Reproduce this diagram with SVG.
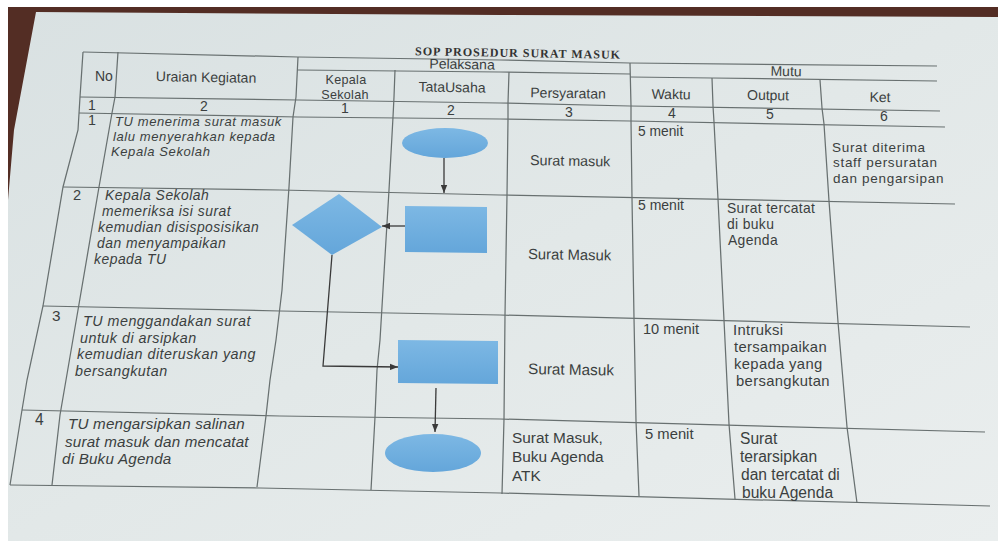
<svg xmlns="http://www.w3.org/2000/svg" width="998" height="543" viewBox="0 0 998 543">
<defs>
<linearGradient id="paper" x1="0" y1="0" x2="1" y2="1">
<stop offset="0" stop-color="#d9e1e2"/>
<stop offset="0.5" stop-color="#e2e8e8"/>
<stop offset="1" stop-color="#eaeeee"/>
</linearGradient>
<linearGradient id="blue" x1="0" y1="0" x2="0" y2="1">
<stop offset="0" stop-color="#7db8e4"/>
<stop offset="1" stop-color="#64a6da"/>
</linearGradient>
<marker id="arr" viewBox="0 0 10 8" refX="10" refY="4" markerWidth="8" markerHeight="7" markerUnits="userSpaceOnUse" orient="auto">
<path d="M0,0 L10,4 L0,8 z" fill="#3a3a3a"/>
</marker>
<style>
.ln{fill:none;stroke:#687070;stroke-width:1.25}
.t{font-family:"Liberation Sans",Arial,sans-serif;fill:#3b3f40}
.i{font-style:italic}
.h{font-size:14px}
.c{text-anchor:middle}
.shape{fill:url(#blue)}
.con{fill:none;stroke:#3a3a3a;stroke-width:1.3}
</style>
</defs>
<rect x="0" y="0" width="998" height="543" fill="#ffffff"/>
<rect x="8" y="7" width="990" height="534" fill="url(#paper)"/>
<polygon points="8,7 998,7 998,17 500,15 36,12 14,130 8,200" fill="#532d24"/>

<g id="table">
<polyline class="ln" points="83,52 298,57 500,60 630,63 937,66"/>
<polyline class="ln" points="298,70 500,72 630,74"/>
<polyline class="ln" points="630,77 712,78 937,81"/>
<polyline class="ln" points="80,97 298,100 500,103 630,106 940,111"/>
<polyline class="ln" points="79,113 298,117 500,119 630,121 945,127"/>
<polyline class="ln" points="63,187 280,190 500,195 955,204"/>
<polyline class="ln" points="43,306 280,311 500,315 970,327"/>
<polyline class="ln" points="22,410 280,416 500,419 985,432"/>
<polyline class="ln" points="10,485 260,488 500,493 990,506"/>
<polyline class="ln" points="83,52 80,97 78,130 63,187 43,306 27,380 22,410 10,485"/>
<polyline class="ln" points="118,52 115,97 112,113 99,187 78,310 66,380 60,415 52,485"/>
<polyline class="ln" points="298,57 296,97 293,117 289,187 282,290 276,340 270,380 266,416 257,487"/>
<polyline class="ln" points="395,70 394,97 393,117 389,190 383,290 380,340 377,370 375,417 371,490"/>
<polyline class="ln" points="509,72 508,103 508,119 507,195 505,315 504,419 502,494"/>
<polyline class="ln" points="630,63 631,106 631,121 632,198 634,318 636,421 639,496"/>
<polyline class="ln" points="712,78 713,106 714,122 718,199 724,320 729,424 735,499"/>
<polyline class="ln" points="820,80 822,108 824,124 829,201 838,322 847,427 857,503"/>
</g>

<g id="headers" class="t">
<text x="518" y="57" text-anchor="middle" style="font-family:'Liberation Serif','Times New Roman',serif;font-weight:bold;font-size:12px;letter-spacing:1px" fill="#333" transform="rotate(1 518 57)">SOP PROSEDUR SURAT MASUK</text>
<text class="h" x="95" y="81">No</text>
<text class="h c" x="206" y="82" transform="rotate(1 206 82)">Uraian Kegiatan</text>
<text class="h c" x="462" y="69" transform="rotate(1 462 69)">Pelaksana</text>
<text class="c" x="346" y="84" style="font-size:12.6px;letter-spacing:0.3px">Kepala</text>
<text class="c" x="345" y="98.5" style="font-size:12.6px;letter-spacing:0.3px">Sekolah</text>
<text class="h c" x="452" y="92" transform="rotate(1 452 92)">TataUsaha</text>
<text class="h c" x="568" y="98" transform="rotate(1 568 98)">Persyaratan</text>
<text class="h c" x="786" y="76" transform="rotate(1 786 76)">Mutu</text>
<text class="h c" x="671" y="99" transform="rotate(1 671 99)">Waktu</text>
<text class="h c" x="768" y="100" transform="rotate(1 768 100)">Output</text>
<text class="h c" x="880" y="102" transform="rotate(1 880 102)">Ket</text>
<text class="h c" x="92" y="110">1</text>
<text class="h c" x="204" y="111">2</text>
<text class="h c" x="345" y="113">1</text>
<text class="h c" x="451" y="115">2</text>
<text class="h c" x="569" y="117">3</text>
<text class="h c" x="672" y="118">4</text>
<text class="h c" x="770" y="119">5</text>
<text class="h c" x="884" y="121">6</text>
</g>

<g id="row1" class="t" style="font-size:13px">
<text x="88" y="125" style="font-size:14.3px">1</text>
<g class="i" style="letter-spacing:0.6px">
<text x="115" y="126">TU menerima surat masuk</text>
<text x="113" y="141">lalu menyerahkan kepada</text>
<text x="111" y="156">Kepala Sekolah</text>
</g>
<text x="530" y="165" style="font-size:14.3px" transform="rotate(1 530 165)">Surat masuk</text>
<text x="638" y="136" style="font-size:13.8px">5 menit</text>
<g style="font-size:13.5px;letter-spacing:0.7px">
<text x="832" y="151.5">Surat diterima</text>
<text x="833" y="167">staff persuratan</text>
<text x="833" y="182.5">dan pengarsipan</text>
</g>
</g>

<g id="row2" class="t" style="font-size:13.9px">
<text x="73" y="200" style="font-size:14.6px">2</text>
<g class="i" style="letter-spacing:0.5px">
<text x="105" y="200">Kepala Sekolah</text>
<text x="102" y="216">memeriksa isi surat</text>
<text x="98" y="232">kemudian disisposisikan</text>
<text x="97" y="248">dan menyampaikan</text>
<text x="94" y="264">kepada TU</text>
</g>
<text x="528" y="259" style="font-size:14.8px" transform="rotate(1 528 259)">Surat Masuk</text>
<text x="638" y="210" style="font-size:14px">5 menit</text>
<g style="letter-spacing:0.35px">
<text x="727" y="213">Surat tercatat</text>
<text x="727" y="229">di buku</text>
<text x="728" y="245">Agenda</text>
</g>
</g>

<g id="row3" class="t" style="font-size:14.3px">
<text x="52" y="321" style="font-size:15.3px">3</text>
<g class="i" style="letter-spacing:0.5px">
<text x="83" y="326">TU menggandakan surat</text>
<text x="80" y="342.5">untuk di arsipkan</text>
<text x="77" y="359">kemudian diteruskan yang</text>
<text x="75" y="375.5">bersangkutan</text>
</g>
<text x="528" y="374" style="font-size:15.3px" transform="rotate(1 528 374)">Surat Masuk</text>
<text x="643" y="334" style="font-size:14.6px">10 menit</text>
<g style="font-size:14.8px;letter-spacing:0.35px">
<text x="733" y="335">Intruksi</text>
<text x="734" y="352">tersampaikan</text>
<text x="734" y="369">kepada yang</text>
<text x="736" y="386">bersangkutan</text>
</g>
</g>

<g id="row4" class="t" style="font-size:15.2px">
<text x="35" y="425" style="font-size:15.6px">4</text>
<g class="i" style="letter-spacing:0.2px">
<text x="68" y="429">TU mengarsipkan salinan</text>
<text x="65" y="446.5">surat masuk dan mencatat</text>
<text x="62" y="464">di Buku Agenda</text>
</g>
<text x="512" y="443" style="font-size:15.4px">Surat Masuk,</text>
<text x="512" y="462" style="font-size:15.4px">Buku Agenda</text>
<text x="512" y="481" style="font-size:15.4px">ATK</text>
<text x="645" y="439" style="font-size:14.8px">5 menit</text>
<text x="740" y="444" style="font-size:15.6px">Surat</text>
<text x="740" y="462" style="font-size:15.6px">terarsipkan</text>
<text x="741" y="480" style="font-size:15.6px">dan tercatat di</text>
<text x="742" y="498" style="font-size:15.6px">buku Agenda</text>
</g>

<g id="start"><ellipse class="shape" cx="445" cy="143" rx="43" ry="15"/></g>
<g id="process1"><polygon class="shape" points="405,206 487,207 487,253 405,252"/></g>
<g id="decision"><polygon class="shape" points="292,225 339,194 382,227 332,255"/></g>
<g id="process2"><polygon class="shape" points="398,340 498,341 498,384 398,383"/></g>
<g id="end"><ellipse class="shape" cx="433" cy="453" rx="48" ry="19"/></g>

<g id="connectors">
<line class="con" x1="444" y1="158" x2="444" y2="193" marker-end="url(#arr)"/>
<line class="con" x1="405" y1="226" x2="382" y2="226" marker-end="url(#arr)"/>
<polyline class="con" points="332,255 323,366 398,367" marker-end="url(#arr)"/>
<line class="con" x1="436" y1="388" x2="435" y2="432" marker-end="url(#arr)"/>
</g>
</svg>
